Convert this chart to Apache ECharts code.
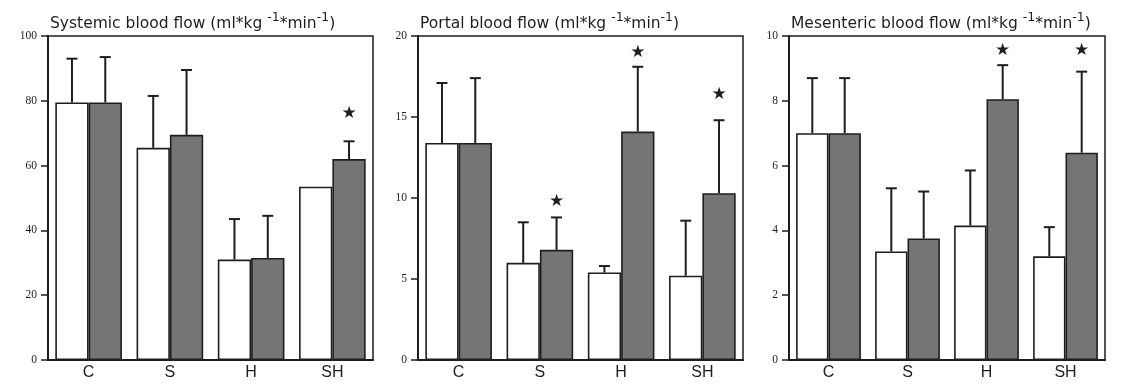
<!DOCTYPE html>
<html><head><meta charset="utf-8">
<script src="https://cdn.jsdelivr.net/npm/echarts@6/dist/echarts.min.js"></script>
<style>html,body{margin:0;padding:0;background:#fff}#c{width:1122px;height:387px}</style>
</head><body><div id="c"></div>
<script>
const categories = ['C', 'S', 'H', 'SH'];
// Systemic blood flow
const sysWhite = [79.5, 65.5, 31, 53.5];
const sysWhiteErr = [93, 81.5, 43.5, null];
const sysGrey = [79.5, 69.5, 31.5, 62];
const sysGreyErr = [93.5, 89.5, 44.5, 67.5];
const sysStars = [null, null, null, 76];
// Portal blood flow
const porWhite = [13.4, 6.0, 5.4, 5.2];
const porWhiteErr = [17.1, 8.5, 5.8, 8.6];
const porGrey = [13.4, 6.8, 14.1, 10.3];
const porGreyErr = [17.4, 8.8, 18.1, 14.8];
const porStars = [null, 9.8, 19.0, 16.4];
// Mesenteric blood flow
const mesWhite = [7.0, 3.35, 4.15, 3.2];
const mesWhiteErr = [8.7, 5.3, 5.85, 4.1];
const mesGrey = [7.0, 3.75, 8.05, 6.4];
const mesGreyErr = [8.7, 5.2, 9.1, 8.9];
const mesStars = [null, null, 9.55, 9.55];
// axis ticks
const yMax = [100, 20, 10];
const yInterval = [20, 5, 2];

const panels = [
  {title: 'Systemic blood flow', left: 48, width: 325, w: sysWhite, we: sysWhiteErr, g: sysGrey, ge: sysGreyErr, s: sysStars},
  {title: 'Portal blood flow', left: 418, width: 325, w: porWhite, we: porWhiteErr, g: porGrey, ge: porGreyErr, s: porStars},
  {title: 'Mesenteric blood flow', left: 789, width: 316, w: mesWhite, we: mesWhiteErr, g: mesGrey, ge: mesGreyErr, s: mesStars}
];

const INK = '#1e1e1e';
const GAP = 0.18;
const font = 'DejaVu Sans, sans-serif';

function errRender(side) {
  return function (params, api) {
    const top = api.value(1);
    if (top == null || isNaN(top)) return;
    const base = api.value(2);
    const band = api.size([1, 0])[0];
    const bw = band * (1 - GAP) / 2;
    const p0 = api.coord([api.value(0), base]);
    const p1 = api.coord([api.value(0), top]);
    const x = p0[0] + side * bw / 2;
    const st = {stroke: INK, lineWidth: 2};
    return {type: 'group', children: [
      {type: 'line', shape: {x1: x, y1: p0[1], x2: x, y2: p1[1]}, style: st},
      {type: 'line', shape: {x1: x - 5.5, y1: p1[1], x2: x + 5.5, y2: p1[1]}, style: st}
    ]};
  };
}
function starRender(params, api) {
  const v = api.value(1);
  if (v == null || isNaN(v)) return;
  const band = api.size([1, 0])[0];
  const bw = band * (1 - GAP) / 2;
  const p = api.coord([api.value(0), v]);
  return {type: 'text', style: {x: p[0] + bw / 2, y: p[1], text: '★', fill: INK, font: '17px DejaVu Sans', align: 'center', verticalAlign: 'middle'}};
}

const option = {animation: false, grid: [], xAxis: [], yAxis: [], series: [], title: []};
panels.forEach((p, i) => {
  option.grid.push({left: p.left, width: p.width, top: 36, bottom: 27, show: true, borderColor: INK, borderWidth: 1.5, backgroundColor: 'transparent'});
  option.xAxis.push({type: 'category', gridIndex: i, data: categories,
    axisLine: {lineStyle: {color: INK, width: 2}}, axisTick: {show: false},
    axisLabel: {color: INK, fontSize: 16, margin: 5, fontFamily: 'Liberation Sans, Arial, sans-serif'}});
  option.yAxis.push({type: 'value', gridIndex: i, min: 0, max: yMax[i], interval: yInterval[i],
    axisLine: {show: true, lineStyle: {color: INK, width: 2}},
    axisTick: {show: true, length: 7, lineStyle: {color: INK, width: 1.5}},
    axisLabel: {color: INK, fontSize: 11.5, margin: 11, fontFamily: 'Liberation Serif, serif'},
    splitLine: {show: false}});
  option.series.push({type: 'bar', xAxisIndex: i, yAxisIndex: i, data: p.w, barGap: '0%', barCategoryGap: (GAP * 100) + '%',
    itemStyle: {color: '#ffffff', borderColor: INK, borderWidth: 1.6}, z: 2});
  option.series.push({type: 'bar', xAxisIndex: i, yAxisIndex: i, data: p.g, barGap: '0%', barCategoryGap: (GAP * 100) + '%',
    itemStyle: {color: '#757575', borderColor: INK, borderWidth: 1.6}, z: 2});
  option.series.push({type: 'custom', xAxisIndex: i, yAxisIndex: i, renderItem: errRender(-1), z: 1,
    data: p.we.map((e, k) => [k, e, p.w[k]])});
  option.series.push({type: 'custom', xAxisIndex: i, yAxisIndex: i, renderItem: errRender(1), z: 1,
    data: p.ge.map((e, k) => [k, e, p.g[k]])});
  option.series.push({type: 'custom', xAxisIndex: i, yAxisIndex: i, renderItem: starRender, z: 3,
    data: p.s.map((s, k) => [k, s])});
  option.title.push({left: p.left + 2, top: 11, padding: 0,
    text: '{a|' + p.title + ' (ml*kg }{s|-1}{a|*min}{s|-1}{a|)}',
    textStyle: {fontWeight: 'normal', rich: {
      a: {fontSize: 15.5, fontFamily: font, color: INK, fontWeight: 'normal', verticalAlign: 'bottom', lineHeight: 21},
      s: {fontSize: 12.5, fontFamily: font, color: INK, fontWeight: 'normal', verticalAlign: 'top', lineHeight: 21, padding: [0, 0, 7, 0]}
    }}});
});
const chart = echarts.init(document.getElementById('c'), null, {renderer: 'canvas'});
chart.setOption(option);
</script></body></html>
